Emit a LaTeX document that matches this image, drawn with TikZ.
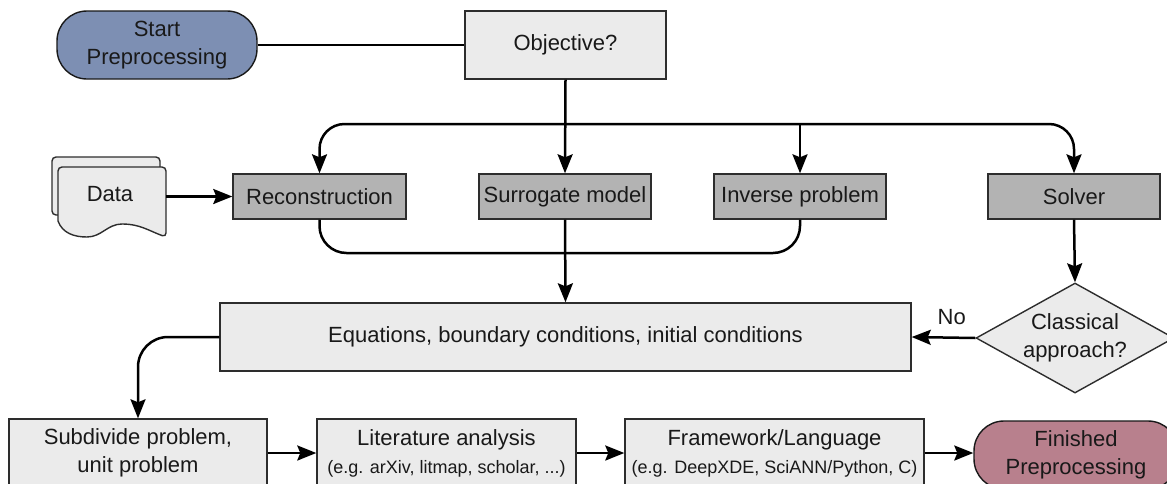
\documentclass[tikz,border=0pt]{standalone}
\usepackage{fontspec}
\setmainfont{Liberation Sans}
\usetikzlibrary{arrows.meta,shapes.geometric}
\definecolor{startfill}{RGB}{125,143,179}
\definecolor{endfill}{RGB}{184,128,141}
\definecolor{grayfill}{RGB}{179,179,179}
\definecolor{lightfill}{RGB}{235,235,235}
\definecolor{borderc}{RGB}{45,45,45}
\definecolor{textc}{RGB}{25,25,25}
\begin{document}
\begin{tikzpicture}[x=1pt,y=-1pt,
  every node/.style={font=\fontsize{22}{28}\selectfont, text=textc, align=center, inner sep=0pt},
  box/.style={draw=borderc, line width=1.4pt, fill=lightfill, minimum height=68pt},
  gbox/.style={draw=borderc, line width=1.4pt, fill=grayfill, minimum height=45pt},
  pill/.style={draw=black!90, line width=1.4pt, rounded corners=30pt, minimum height=68pt},
  sheet/.style={draw=borderc, line width=1.4pt, fill=lightfill, rounded corners=4pt},
  conn/.style={line width=2.5pt, black},
  arr/.style={conn, -{Stealth[length=19pt,width=15pt,inset=3pt]}},
  note/.style={font=\fontsize{18}{22}\selectfont}
]
\useasboundingbox (0,0) rectangle (1167,483);

% stacked document sheets behind the Data label
\path[sheet] (52,157) -- (160,157) -- (160,215) -- (52,215) -- cycle;
\path[sheet] (58,167) -- (166,167) -- (166,237)
  [sharp corners] to[out=160,in=0] (122,224) to[out=180,in=0] (87,237)
  to[out=180,in=-70] (58,221) [rounded corners=4pt] -- cycle;

% nodes
\node[pill, fill=startfill, minimum width=200pt] (start) at (157,45) {Start\\Preprocessing};
\node[box, minimum width=201pt] (obj) at (565.5,45) {Objective?};
\node[minimum width=112pt, minimum height=40pt] (data) at (110,194) {Data};
\node[gbox, minimum width=173pt] (rec) at (319.5,196.5) {Reconstruction};
\node[gbox, minimum width=172pt] (sur) at (565,196.5) {Surrogate model};
\node[gbox, minimum width=172pt] (inv) at (800,196.5) {Inverse problem};
\node[gbox, minimum width=172pt] (sol) at (1074,196.5) {Solver};
\node[box, minimum width=691pt] (eq) at (565.5,337) {Equations, boundary conditions, initial conditions};
\node[diamond, draw=borderc, line width=1.4pt, fill=lightfill, aspect=1.8,
      minimum width=198pt, minimum height=110pt] (dia) at (1075,338) {Classical\\approach?};
\node[box, minimum width=258pt] (sub) at (138,453) {Subdivide problem,\\unit problem};
\node[box, minimum width=259pt] (lit) at (446.5,453)
  {Literature analysis\\\fontsize{18}{22}\selectfont(e.g. arXiv, litmap, scholar, ...)};
\node[box, minimum width=299pt] (fw) at (774.5,453)
  {Framework/Language\\\fontsize{18}{22}\selectfont(e.g. DeepXDE, SciANN/Python, C)};
\node[pill, fill=endfill, minimum width=204pt] (fin) at (1076,455) {Finished\\Preprocessing};

% branching point below the objective and merge point above the equations
\coordinate (br) at (565,124);
\coordinate (mg) at (565,253);

% connectors
\draw[conn] (start.east) -- (obj.west);
\draw[arr] (obj.south) -- (sur.north);
\draw[arr, rounded corners=25pt] (br) -| (rec.north);
\draw[arr, rounded corners=25pt] (br) -| (sol.north);
\draw[arr] (inv.north |- br) -- (inv.north);
\draw[arr] (data.east |- rec.west) -- (rec.west);
\draw[conn, rounded corners=27pt] (rec.south) |- (mg) -| (inv.south);
\draw[arr] (sur.south) -- (eq.north);
\draw[arr] (sol.south) -- (dia.north);
\draw[arr] (dia.west) -- node[pos=0.37, anchor=south, yshift=12pt] (no) {No} (eq.east);
\draw[arr, rounded corners=30pt] (eq.west) -| (sub.north);
\draw[arr] (sub.east) -- (lit.west);
\draw[arr] (lit.east) -- (fw.west);
\draw[arr] (fw.east) -- (fw.east -| fin.west);
\end{tikzpicture}
\end{document}
